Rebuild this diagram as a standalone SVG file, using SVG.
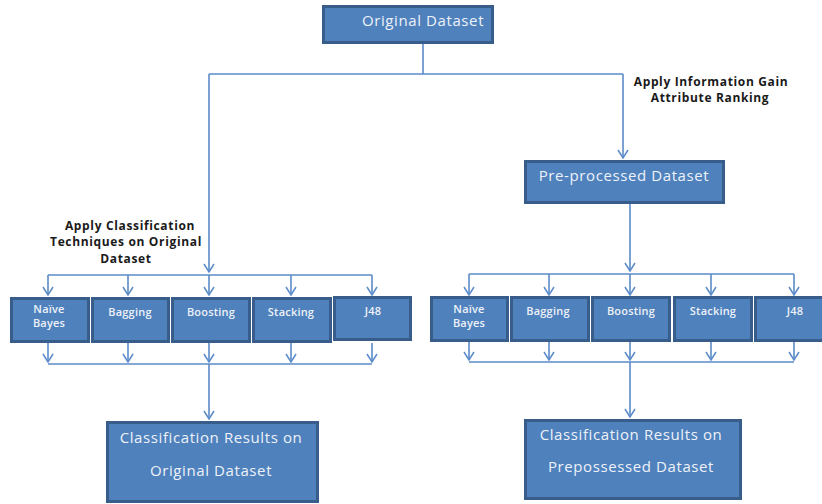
<svg xmlns="http://www.w3.org/2000/svg" width="822" height="504" viewBox="0 0 822 504">
<defs>
<style>
.box{fill:#4f81bd;stroke:#385d8a;stroke-width:3}
.bt{fill:#eef2f8;font-family:"Open Sans","Liberation Sans",sans-serif;font-weight:600;text-anchor:middle}
.big{font-size:15px;letter-spacing:0.6px;font-weight:500}
.sm{font-size:11px;letter-spacing:0.2px}
.lbl{fill:#1a1a1a;font-family:"Open Sans","Liberation Sans",sans-serif;font-weight:bold;font-size:12px;letter-spacing:0.65px;text-anchor:middle}
.ln{fill:none;stroke:#5b8bc9;stroke-width:1.6}
</style>
<marker id="ar" viewBox="0 0 10 12" refX="9" refY="6" markerWidth="10" markerHeight="12" markerUnits="userSpaceOnUse" orient="auto">
<path d="M1,1 L9,6 L1,11" fill="none" stroke="#5b8bc9" stroke-width="1.5"/>
</marker>
</defs>
<rect width="822" height="504" fill="#ffffff"/>
<g id="connectors">
<path class="ln" d="M423,43 V74 M209,74 H623"/>
<path class="ln" d="M209,74 V272" marker-end="url(#ar)"/>
<path class="ln" d="M623,74 V158" marker-end="url(#ar)"/>
<path class="ln" d="M48,275 H372"/>
<path class="ln" d="M48,275 V295" marker-end="url(#ar)"/>
<path class="ln" d="M128,275 V295" marker-end="url(#ar)"/>
<path class="ln" d="M209,275 V295" marker-end="url(#ar)"/>
<path class="ln" d="M291,275 V295" marker-end="url(#ar)"/>
<path class="ln" d="M372,275 V295" marker-end="url(#ar)"/>
<path class="ln" d="M48,343 V362" marker-end="url(#ar)"/>
<path class="ln" d="M128,343 V362" marker-end="url(#ar)"/>
<path class="ln" d="M209,343 V362" marker-end="url(#ar)"/>
<path class="ln" d="M291,343 V362" marker-end="url(#ar)"/>
<path class="ln" d="M372,343 V362" marker-end="url(#ar)"/>
<path class="ln" d="M48,364 H372"/>
<path class="ln" d="M209,364 V419" marker-end="url(#ar)"/>
<path class="ln" d="M630,204 V271" marker-end="url(#ar)"/>
<path class="ln" d="M469,274 H794"/>
<path class="ln" d="M469,274 V295" marker-end="url(#ar)"/>
<path class="ln" d="M549,274 V295" marker-end="url(#ar)"/>
<path class="ln" d="M630,274 V295" marker-end="url(#ar)"/>
<path class="ln" d="M711,274 V295" marker-end="url(#ar)"/>
<path class="ln" d="M794,274 V295" marker-end="url(#ar)"/>
<path class="ln" d="M469,342 V360" marker-end="url(#ar)"/>
<path class="ln" d="M549,342 V360" marker-end="url(#ar)"/>
<path class="ln" d="M630,342 V360" marker-end="url(#ar)"/>
<path class="ln" d="M711,342 V360" marker-end="url(#ar)"/>
<path class="ln" d="M794,342 V360" marker-end="url(#ar)"/>
<path class="ln" d="M469,362 H794"/>
<path class="ln" d="M630,362 V417" marker-end="url(#ar)"/>
</g>
<g id="original">
<rect class="box" x="323.5" y="6.5" width="169" height="36"/>
<text class="bt big" x="423" y="26">Original Dataset</text>
</g>
<g id="label-ig">
<text class="lbl" x="711" y="86">Apply Information Gain</text>
<text class="lbl" x="710" y="102">Attribute Ranking</text>
</g>
<g id="preprocessed">
<rect class="box" x="525.5" y="161.5" width="198" height="41"/>
<text class="bt big" x="624" y="181">Pre-processed Dataset</text>
</g>
<g id="label-cls">
<text class="lbl" x="130" y="230">Apply Classification</text>
<text class="lbl" x="126" y="246">Techniques on Original</text>
<text class="lbl" x="126" y="263">Dataset</text>
</g>
<g id="l-nb"><rect class="box" x="11.5" y="298.5" width="77" height="43"/><text class="bt sm" x="49" y="313">Naïve</text><text class="bt sm" x="49" y="327">Bayes</text></g>
<g id="l-bag"><rect class="box" x="92.5" y="298.5" width="76" height="43"/><text class="bt sm" x="130" y="316">Bagging</text></g>
<g id="l-boost"><rect class="box" x="172.5" y="298.5" width="77" height="43"/><text class="bt sm" x="211" y="316">Boosting</text></g>
<g id="l-stack"><rect class="box" x="253.5" y="298.5" width="77" height="43"/><text class="bt sm" x="291" y="316">Stacking</text></g>
<g id="l-j48"><rect class="box" x="334.5" y="297.5" width="76" height="42"/><text class="bt sm" x="373" y="315">J48</text></g>
<g id="l-result">
<rect class="box" x="107.5" y="422.5" width="210" height="79"/>
<text class="bt big" x="211" y="443">Classification Results on</text>
<text class="bt big" x="211" y="476">Original Dataset</text>
</g>
<g id="r-nb"><rect class="box" x="431.5" y="297.5" width="76" height="43"/><text class="bt sm" x="469" y="313">Naïve</text><text class="bt sm" x="469" y="327">Bayes</text></g>
<g id="r-bag"><rect class="box" x="511.5" y="297.5" width="77" height="43"/><text class="bt sm" x="548" y="315">Bagging</text></g>
<g id="r-boost"><rect class="box" x="592.5" y="297.5" width="77" height="43"/><text class="bt sm" x="631" y="315">Boosting</text></g>
<g id="r-stack"><rect class="box" x="674.5" y="297.5" width="77" height="43"/><text class="bt sm" x="713" y="315">Stacking</text></g>
<g id="r-j48"><rect class="box" x="755.5" y="297.5" width="70" height="43"/><text class="bt sm" x="795" y="315">J48</text></g>
<g id="r-result">
<rect class="box" x="525.5" y="420.5" width="215" height="78"/>
<text class="bt big" x="631" y="440">Classification Results on</text>
<text class="bt big" x="631" y="472">Prepossessed Dataset</text>
</g>
</svg>
